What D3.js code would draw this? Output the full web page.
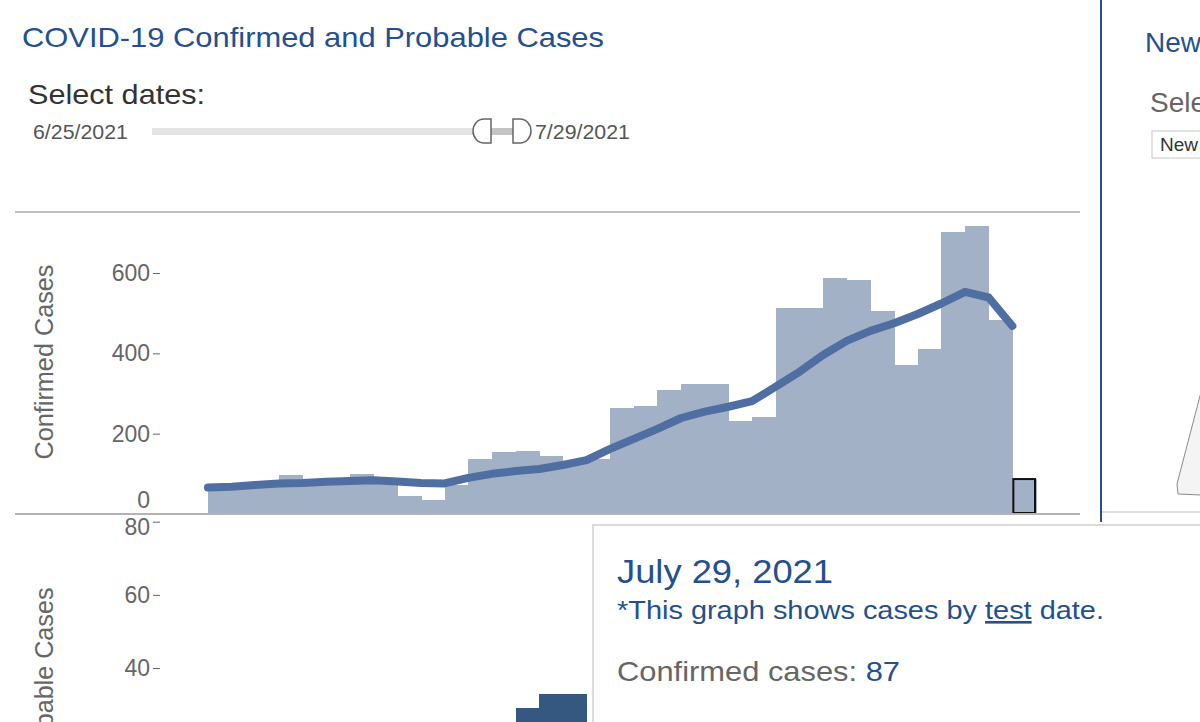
<!DOCTYPE html>
<html>
<head>
<meta charset="utf-8">
<script src="https://cdn.jsdelivr.net/npm/d3@7/dist/d3.min.js"></script>
<style>
    html, body { margin: 0; padding: 0; background: #fff; }
    svg { display: block; font-family: "Liberation Sans", Arial, sans-serif; }
</style>
</head>
<body>
<div id="chart"></div>
<script>
// Daily confirmed cases by test date, 6/25/2021 - 7/29/2021
const dates = [
    '2021-06-25', '2021-06-26', '2021-06-27', '2021-06-28', '2021-06-29', '2021-06-30', '2021-07-01',
    '2021-07-02', '2021-07-03', '2021-07-04', '2021-07-05', '2021-07-06', '2021-07-07', '2021-07-08',
    '2021-07-09', '2021-07-10', '2021-07-11', '2021-07-12', '2021-07-13', '2021-07-14', '2021-07-15',
    '2021-07-16', '2021-07-17', '2021-07-18', '2021-07-19', '2021-07-20', '2021-07-21', '2021-07-22',
    '2021-07-23', '2021-07-24', '2021-07-25', '2021-07-26', '2021-07-27', '2021-07-28', '2021-07-29'
];
const confirmed = [
    62, 63, 72, 97, 76, 75, 100, 80, 45, 35, 72, 137, 154, 158, 144, 125, 138, 264,
    269, 308, 323, 323, 231, 241, 514, 514, 587, 583, 506, 371, 410, 703, 718, 483, 87
];
// rolling average line
const average = [
    66, 68, 72, 76, 77, 80, 82, 84, 81, 77, 76, 90, 100, 107, 112, 122, 134, 162,
    187, 212, 239, 255, 267, 281, 317, 354, 396, 431, 456, 475, 498, 524, 553, 539, 468
];
// lower panel, only the bars not hidden by the tooltip
const probableDates = ['2021-07-08', '2021-07-09', '2021-07-10'];
const probable = [29, 33, 33];

const confirmedTicks = [0, 200, 400, 600];
const probableTicks = [40, 60, 80];

const W = 1200, H = 722;
const BLUE = '#24508e';
const GREY_TXT = '#666';
const parse = d3.timeParse('%Y-%m-%d');

const svg = d3.select('#chart').append('svg')
    .attr('width', W)
    .attr('height', H);

// ---- header ----
svg.append('text')
    .attr('x', 22).attr('y', 47)
    .attr('textLength', 582).attr('lengthAdjust', 'spacingAndGlyphs')
    .style('fill', BLUE).style('font-size', '28px')
    .text('COVID-19 Confirmed and Probable Cases');

svg.append('text')
    .attr('x', 28).attr('y', 104)
    .attr('textLength', 177).attr('lengthAdjust', 'spacingAndGlyphs')
    .style('fill', '#333').style('font-size', '28px')
    .text('Select dates:');

// date slider
const slider = svg.append('g');
slider.append('text')
    .attr('x', 33).attr('y', 139)
    .attr('textLength', 95).attr('lengthAdjust', 'spacingAndGlyphs')
    .style('fill', '#555').style('font-size', '21px')
    .text('6/25/2021');
slider.append('rect')
    .attr('x', 152).attr('y', 128).attr('width', 330).attr('height', 7)
    .attr('fill', '#e3e3e3');
slider.append('rect')
    .attr('x', 490).attr('y', 128).attr('width', 24).attr('height', 7)
    .attr('fill', '#c4c4c4');
slider.append('path')
    .attr('d', 'M491,119 H484 A11,12 0 0 0 484,143 H491 Z')
    .attr('fill', '#fff').attr('stroke', '#666').attr('stroke-width', 1.5);
slider.append('path')
    .attr('d', 'M513,119 H520 A11,12 0 0 1 520,143 H513 Z')
    .attr('fill', '#fff').attr('stroke', '#666').attr('stroke-width', 1.5);
slider.append('text')
    .attr('x', 535).attr('y', 139)
    .attr('textLength', 95).attr('lengthAdjust', 'spacingAndGlyphs')
    .style('fill', '#555').style('font-size', '21px')
    .text('7/29/2021');

// ---- scales ----
const xScale = d3.scaleTime()
    .domain([parse('2021-06-25'), parse('2021-07-30')])
    .range([208, 1036]);

const yScale = d3.scaleLinear()
    .domain([0, 600])
    .range([514, 273]);

const yProb = d3.scaleLinear()
    .domain([40, 80])
    .range([668, 521.7]);

const rows = dates.map((d, i) => ({ date: parse(d), value: confirmed[i], avg: average[i] }));
const dayAfter = d => d3.timeDay.offset(d, 1);

// frame lines
svg.append('line')
    .attr('x1', 15).attr('x2', 1080).attr('y1', 212).attr('y2', 212)
    .attr('stroke', '#a8a8a8').attr('stroke-width', 1.5);

// ---- confirmed bars ----
svg.append('g')
    .attr('shape-rendering', 'crispEdges')
    .selectAll('rect')
    .data(rows)
    .enter()
    .append('rect')
    .attr('x', d => xScale(d.date))
    .attr('width', d => xScale(dayAfter(d.date)) - xScale(d.date) + 0.6)
    .attr('y', d => yScale(d.value))
    .attr('height', d => yScale(0) - yScale(d.value))
    .attr('fill', '#a3b1c6');

// selected mark outline (7/29)
const sel = rows[rows.length - 1];
svg.append('rect')
    .attr('x', xScale(sel.date) + 1)
    .attr('width', xScale(dayAfter(sel.date)) - xScale(sel.date) - 2)
    .attr('y', yScale(sel.value))
    .attr('height', yScale(0) - yScale(sel.value) - 1)
    .attr('fill', 'none')
    .attr('stroke', '#111')
    .attr('stroke-width', 2);

// average line
const line = d3.line()
    .x(d => xScale(d.date))
    .y(d => yScale(d.avg));

svg.append('path')
    .datum(rows)
    .attr('d', line)
    .attr('fill', 'none')
    .attr('stroke', '#4f6fa2')
    .attr('stroke-width', 8)
    .attr('stroke-linecap', 'round')
    .attr('stroke-linejoin', 'round');

svg.append('line')
    .attr('x1', 15).attr('x2', 1080).attr('y1', 514).attr('y2', 514)
    .attr('stroke', '#b4b4b4').attr('stroke-width', 2);

// y axis (confirmed)
const yAxis = svg.append('g')
    .attr('transform', 'translate(160,0)')
    .call(d3.axisLeft(yScale).tickValues(confirmedTicks).tickSize(7).tickPadding(3));
yAxis.select('.domain').remove();
yAxis.selectAll('line').attr('stroke', GREY_TXT);
yAxis.selectAll('text')
    .style('fill', GREY_TXT)
    .style('font-size', '23px')
    .style('font-family', '"Liberation Sans", Arial, sans-serif');
yAxis.selectAll('.tick').filter(d => d === 0).select('line').remove();
yAxis.selectAll('.tick').filter(d => d === 0).select('text').attr('dy', '-0.3em');

svg.append('text')
    .attr('transform', 'translate(53,362) rotate(-90)')
    .attr('text-anchor', 'middle')
    .attr('textLength', 195).attr('lengthAdjust', 'spacingAndGlyphs')
    .style('fill', GREY_TXT).style('font-size', '25px')
    .text('Confirmed Cases');

// ---- probable panel ----
svg.append('g')
    .attr('shape-rendering', 'crispEdges')
    .selectAll('rect')
    .data(probableDates.map((d, i) => ({ date: parse(d), value: probable[i] })))
    .enter()
    .append('rect')
    .attr('x', d => xScale(d.date))
    .attr('width', d => xScale(dayAfter(d.date)) - xScale(d.date) + 0.6)
    .attr('y', d => yProb(d.value))
    .attr('height', d => H - yProb(d.value))
    .attr('fill', '#34587f');

const pAxis = svg.append('g')
    .attr('transform', 'translate(160,0)')
    .call(d3.axisLeft(yProb).tickValues(probableTicks).tickSize(7).tickPadding(3));
pAxis.select('.domain').remove();
pAxis.selectAll('line').attr('stroke', GREY_TXT);
pAxis.selectAll('text')
    .style('fill', GREY_TXT)
    .style('font-size', '23px')
    .style('font-family', '"Liberation Sans", Arial, sans-serif');
pAxis.selectAll('.tick').filter(d => d === 80).select('text').attr('dy', '0.55em');

svg.append('text')
    .attr('transform', 'translate(53,677) rotate(-90)')
    .attr('text-anchor', 'middle')
    .attr('textLength', 179).attr('lengthAdjust', 'spacingAndGlyphs')
    .style('fill', GREY_TXT).style('font-size', '25px')
    .text('Probable Cases');

// ---- right-hand panel (cut off) ----
svg.append('line')
    .attr('x1', 1101).attr('x2', 1101).attr('y1', 0).attr('y2', 522)
    .attr('stroke', BLUE).attr('stroke-width', 2);
svg.append('line')
    .attr('x1', 1102).attr('x2', 1200).attr('y1', 512).attr('y2', 512)
    .attr('stroke', '#ddd').attr('stroke-width', 2);
svg.append('text')
    .attr('x', 1145).attr('y', 52)
    .style('fill', BLUE).style('font-size', '28px')
    .text('New');
svg.append('text')
    .attr('x', 1150).attr('y', 112)
    .style('fill', GREY_TXT).style('font-size', '28px')
    .text('Select');
svg.append('rect')
    .attr('x', 1152).attr('y', 131).attr('width', 70).attr('height', 27)
    .attr('fill', '#fff').attr('stroke', '#c6c6c6');
svg.append('text')
    .attr('x', 1160).attr('y', 151)
    .style('fill', '#333').style('font-size', '19px')
    .text('New');
svg.append('path')
    .attr('d', 'M1201,392 L1177,484 L1178,494 L1201,495')
    .attr('fill', '#f4f4f4').attr('stroke', '#8a8a8a').attr('stroke-width', 1);

// ---- tooltip ----
const tip = svg.append('g');
tip.append('rect')
    .attr('x', 593).attr('y', 525).attr('width', 640).attr('height', 220)
    .attr('fill', '#fff').attr('stroke', '#cfcfcf').attr('stroke-width', 1.5);
tip.append('text')
    .attr('x', 617).attr('y', 583)
    .attr('textLength', 216).attr('lengthAdjust', 'spacingAndGlyphs')
    .style('fill', BLUE).style('font-size', '34px')
    .text('July 29, 2021');
const note = tip.append('text')
    .attr('x', 617).attr('y', 619)
    .attr('textLength', 487).attr('lengthAdjust', 'spacingAndGlyphs')
    .style('fill', BLUE).style('font-size', '26px');
note.append('tspan').text('*This graph shows cases by ');
note.append('tspan').style('text-decoration', 'underline').text('test');
note.append('tspan').text(' date.');
const count = tip.append('text')
    .attr('x', 617).attr('y', 681)
    .attr('textLength', 283).attr('lengthAdjust', 'spacingAndGlyphs')
    .style('font-size', '28px');
count.append('tspan').style('fill', GREY_TXT).text('Confirmed cases: ');
count.append('tspan').style('fill', BLUE).text(sel.value);
</script>
</body>
</html>
